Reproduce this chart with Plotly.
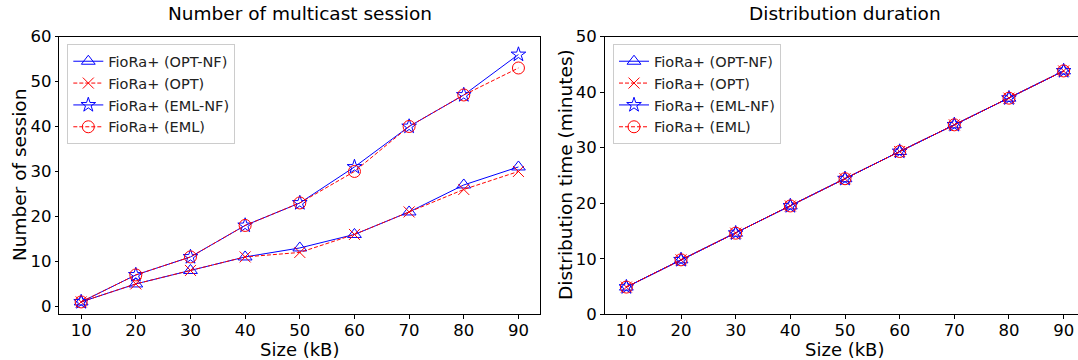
import plotly.graph_objects as go

sizes = [10, 20, 30, 40, 50, 60, 70, 80, 90]
x_ticks = [10, 20, 30, 40, 50, 60, 70, 80, 90]

# Left: number of multicast sessions
sess_opt_nf = [1, 5, 8, 11, 13, 16, 21, 27, 31]
sess_opt = [1, 5, 8, 11, 12, 16, 21, 26, 30]
sess_eml_nf = [1, 7, 11, 18, 23, 31, 40, 47, 56]
sess_eml = [1, 7, 11, 18, 23, 30, 40, 47, 53]

# Right: distribution duration (minutes)
dur_opt_nf = [4.9, 9.8, 14.6, 19.5, 24.4, 29.3, 34.1, 38.9, 43.8]
dur_opt = [4.9, 9.8, 14.6, 19.5, 24.4, 29.3, 34.1, 38.9, 43.8]
dur_eml_nf = [4.9, 9.8, 14.6, 19.5, 24.4, 29.3, 34.1, 38.9, 43.8]
dur_eml = [4.9, 9.8, 14.6, 19.5, 24.4, 29.3, 34.1, 38.9, 43.8]

names = ["FioRa+ (OPT-NF)", "FioRa+ (OPT)", "FioRa+ (EML-NF)", "FioRa+ (EML)"]
colors = ["blue", "red", "blue", "red"]
dashes = ["solid", "4px,2px", "solid", "4px,2px"]
symbols = ["triangle-up-open", "x-thin-open", "star-open", "circle-open"]
msizes = [12, 11, 11, 12]

W, H = 1078, 360
FONT = "DejaVu Sans"

fig = go.Figure()

def add_series(ys_list, xaxis, yaxis, legend):
    for ys, name, c, d, s, ms in zip(ys_list, names, colors, dashes, symbols, msizes):
        fig.add_trace(go.Scatter(
            x=sizes, y=ys, name=name, mode="lines+markers",
            line=dict(color=c, width=1, dash=d),
            marker=dict(symbol=s, size=ms, color=c, line=dict(color=c, width=1)),
            xaxis=xaxis, yaxis=yaxis, legend=legend,
        ))

add_series([sess_opt_nf, sess_opt, sess_eml_nf, sess_eml], "x", "y", "legend")
add_series([dur_opt_nf, dur_opt, dur_eml_nf, dur_eml], "x2", "y2", "legend2")

def px(x):
    return x / W

def py(y):
    return 1 - y / H

ax_common = dict(showgrid=False, zeroline=False, showline=True, linecolor="black",
                 linewidth=1, ticks="outside", ticklen=3.5, tickcolor="black",
                 automargin=False,
                 tickfont=dict(family=FONT, size=16.5, color="black"))

left_l, left_r = 59.3, 540.3
right_l = 604.5
top, bottom = 36.5, 314.3
xscale = (left_r - left_l) / 88.0
right_max = 6 + (W - right_l) / xscale

fig.update_layout(
    width=W, height=H,
    margin=dict(l=0, r=0, t=0, b=0, autoexpand=False),
    paper_bgcolor="white", plot_bgcolor="white",
    font=dict(family=FONT, color="black"),
    xaxis=dict(domain=[px(left_l), px(left_r)], range=[6, 94], tickvals=x_ticks,
               mirror=True, anchor="y", ticklabelstandoff=-3, **ax_common),
    yaxis=dict(domain=[py(bottom), py(top)], range=[-1.75, 60], tickvals=[0, 10, 20, 30, 40, 50, 60],
               mirror=True, anchor="x", **ax_common),
    xaxis2=dict(domain=[px(right_l), 1], range=[6, right_max], tickvals=x_ticks,
                mirror=True, anchor="y2", ticklabelstandoff=-3, **ax_common),
    yaxis2=dict(domain=[py(bottom), py(top)], range=[0, 50], tickvals=[0, 10, 20, 30, 40, 50],
                mirror=False, anchor="x2", **ax_common),
    legend=dict(x=px(67.3), y=py(44.3), xanchor="left", yanchor="top",
                bgcolor="rgba(255,255,255,0.8)", bordercolor="#cccccc", borderwidth=1,
                font=dict(family=FONT, size=14.5, color="#222222"), tracegroupgap=0),
    legend2=dict(x=px(613), y=py(44.3), xanchor="left", yanchor="top",
                 bgcolor="rgba(255,255,255,0.8)", bordercolor="#cccccc", borderwidth=1,
                 font=dict(family=FONT, size=14.5, color="#222222"), tracegroupgap=0),
    showlegend=True,
)

annots = [
    dict(text="Number of multicast session", x=px(300), y=py(14), size=18.5, angle=0),
    dict(text="Distribution duration", x=px(845), y=py(14), size=18.5, angle=0),
    dict(text="Size (kB)", x=px(300), y=py(349), size=18, angle=0),
    dict(text="Size (kB)", x=px(845), y=py(349), size=18, angle=0),
    dict(text="Number of session", x=px(19), y=py(175), size=18.5, angle=-90),
    dict(text="Distribution time (minutes)", x=px(565), y=py(175), size=18.5, angle=-90),
]
for a in annots:
    fig.add_annotation(text=a["text"], x=a["x"], y=a["y"], xref="paper", yref="paper",
                       xanchor="center", yanchor="middle", showarrow=False,
                       textangle=a["angle"], font=dict(family=FONT, size=a["size"], color="black"))

fig.write_html("out.html", config={"displayModeBar": False},
               post_script="document.body.style.margin='0px';")
